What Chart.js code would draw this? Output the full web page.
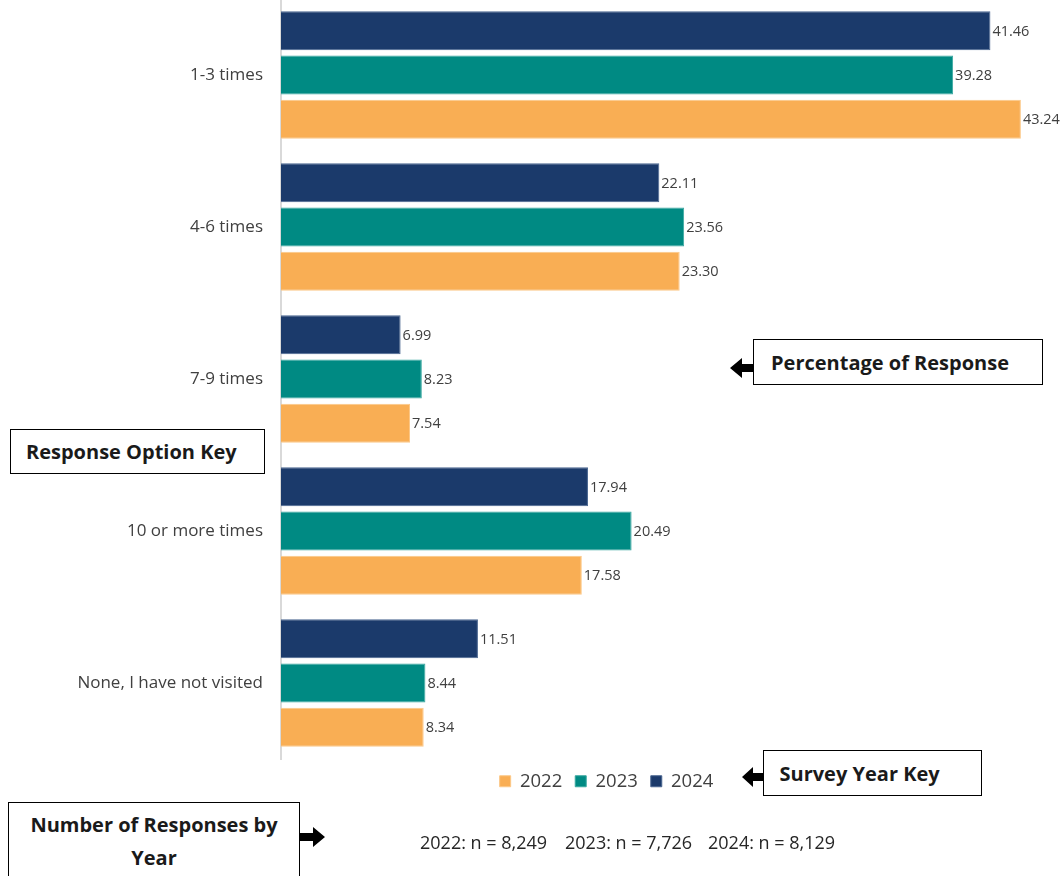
<!DOCTYPE html>
<html>
<head>
<meta charset="utf-8">
<script src="https://cdn.jsdelivr.net/npm/chart.js@4"></script>
<style>
html,body{margin:0;padding:0;background:#fff;width:1061px;height:876px;overflow:hidden;position:relative;}
#c{position:absolute;left:0;top:-1px;}
.box{position:absolute;border:1.5px solid #000;background:#fff;font-family:"Open Sans",sans-serif;font-weight:700;font-size:20px;color:#1a1a1a;box-sizing:border-box;display:flex;align-items:center;white-space:nowrap;}
#nline{position:absolute;top:830px;left:0;font-family:"Open Sans",sans-serif;font-size:18px;line-height:24px;color:#262626;}
#nline span{position:absolute;white-space:nowrap;}
svg{position:absolute;left:0;top:0;}
</style>
</head>
<body>
<canvas id="c" width="1061" height="876"></canvas>

<div class="box" style="left:753px;top:339px;width:290px;height:46px;padding-left:17px;">Percentage of Response</div>
<div class="box" style="left:10px;top:429px;width:255px;height:45px;padding-left:15px;">Response Option Key</div>
<div class="box" style="left:763px;top:750px;width:219px;height:46px;padding-left:15.5px;">Survey Year Key</div>
<div class="box" style="left:8px;top:802px;width:292px;height:90px;display:block;text-align:center;line-height:33px;padding-top:5px;">Number of Responses by<br>Year</div>

<div id="nline"></div>

<svg width="1061" height="876">
  <polygon points="730,368 742,358 742,364 753,364 753,372 742,372 742,378" fill="#000"/>
  <polygon points="742,777 753,767 753,773 763,773 763,781 753,781 753,787" fill="#000"/>
  <polygon points="325,837 313,827 313,833 300,833 300,841 313,841 313,847" fill="#000"/>
</svg>

<script>
const categories = ['1-3 times', '4-6 times', '7-9 times', '10 or more times', 'None, I have not visited'];
const values2024 = [41.46, 22.11, 6.99, 17.94, 11.51];
const values2023 = [39.28, 23.56, 8.23, 20.49, 8.44];
const values2022 = [43.24, 23.30, 7.54, 17.58, 8.34];
const sampleSizes = ['2022: n = 8,249', '2023: n = 7,726', '2024: n = 8,129'];

const nline = document.getElementById('nline');
const nLefts = [420, 565, 708];
sampleSizes.forEach((t, i) => {
  const s = document.createElement('span');
  s.textContent = t;
  s.style.left = nLefts[i] + 'px';
  nline.appendChild(s);
});

const valueLabels = {
  id: 'valueLabels',
  afterDatasetsDraw(chart) {
    const ctx = chart.ctx;
    ctx.save();
    ctx.font = '14.5px "Open Sans"';
    ctx.fillStyle = '#404040';
    ctx.textBaseline = 'middle';
    ctx.textAlign = 'left';
    chart.data.datasets.forEach((ds, di) => {
      const meta = chart.getDatasetMeta(di);
      meta.data.forEach((bar, i) => {
        ctx.fillText(ds.data[i].toFixed(2), bar.x + 2, bar.y + 1);
      });
    });
    ctx.restore();
  }
};

// shift the centred legend row so it sits under the plot as in the original
const legendShift = {
  id: 'legendShift',
  afterLayout(chart) {
    const lg = chart.legend;
    if (lg) { lg.left += 81; lg.right += 81; }
  }
};

new Chart(document.getElementById('c'), {
  type: 'bar',
  data: {
    labels: categories,
    datasets: [
      {label: '2024', data: values2024, backgroundColor: '#1b3a6b', borderColor: '#4a6690', borderWidth: 1},
      {label: '2023', data: values2023, backgroundColor: '#008a83', borderColor: '#3aa8a0', borderWidth: 1},
      {label: '2022', data: values2022, backgroundColor: '#f9ae54', borderColor: '#fcc888', borderWidth: 1}
    ]
  },
  options: {
    indexAxis: 'y',
    responsive: false,
    animation: false,
    devicePixelRatio: 1,
    categoryPercentage: 0.874,
    barPercentage: 0.88,
    layout: {padding: {left: 0, right: 10, top: 0, bottom: 74.5}},
    scales: {
      x: {display: false, min: 0, max: 45},
      y: {
        grid: {display: false, drawTicks: false},
        border: {display: true, color: '#d9d9d9', width: 2},
        ticks: {padding: 18, color: '#404040', font: {family: '"Open Sans"', size: 17}},
        afterFit(scale) { scale.width = 281; scale.paddingTop = 0; scale.paddingBottom = 0; }
      }
    },
    plugins: {
      tooltip: {enabled: false},
      legend: {
        position: 'bottom',
        reverse: true,
        labels: {
          boxWidth: 11, boxHeight: 11, padding: 13,
          color: '#404040',
          font: {family: '"Open Sans"', size: 18.5}
        }
      }
    }
  },
  plugins: [valueLabels, legendShift]
});
</script>
</body>
</html>
